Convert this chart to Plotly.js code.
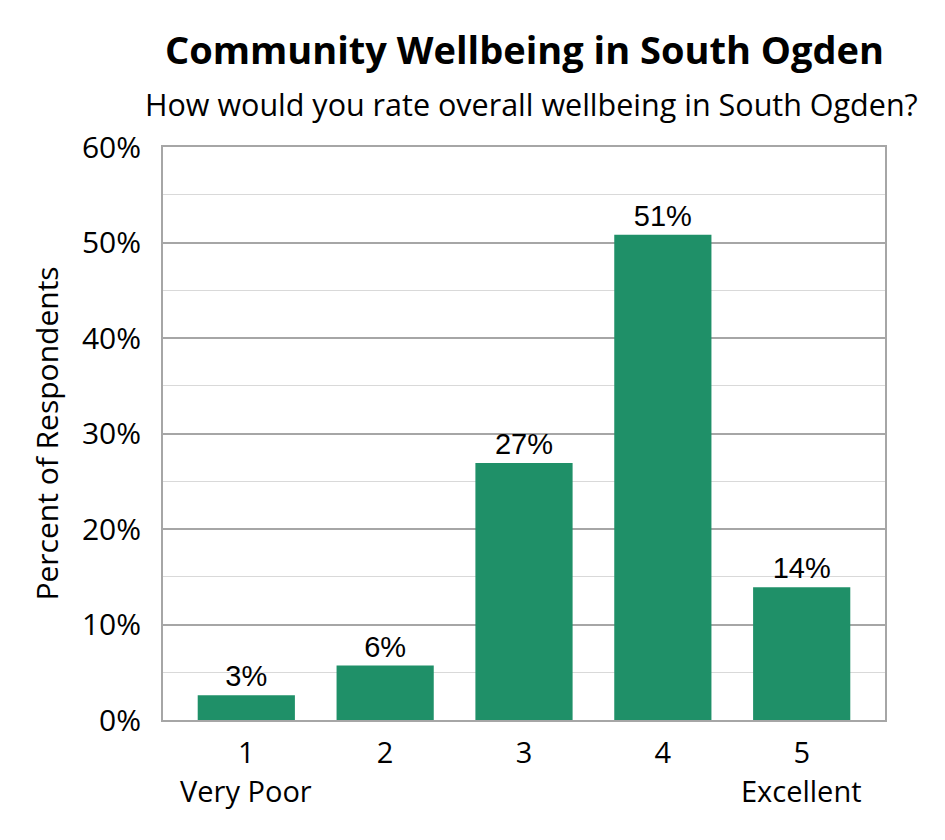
<!DOCTYPE html>
<html>
<head>
<meta charset="utf-8">
<script src="https://cdn.plot.ly/plotly-3.0.1.min.js"></script>
<style>
  html, body { margin: 0; padding: 0; background: #fff; }
  #chart { width: 945px; height: 840px; }
</style>
</head>
<body>
<div id="chart"></div>
<script>
/* Community Wellbeing in South Ogden - survey bar chart */
var categories = ['1', '2', '3', '4', '5'];
var subLabels  = ['Very Poor', '', '', '', 'Excellent'];
var percents   = [2.6, 5.7, 26.9, 50.8, 13.9];
var barLabels  = ['3%', '6%', '27%', '51%', '14%'];

var GREEN = '#1f9068';
var AXIS  = '#a6a6a6';
var MINOR = '#d9d9d9';
var SANS  = '"Open Sans", Lato, sans-serif';

var annotations = [
  { text: 'How would you rate overall wellbeing in South Ogden?', xref: 'paper', yref: 'paper',
    x: 0.51, y: 1, yshift: 43, xanchor: 'center', yanchor: 'middle', showarrow: false,
    font: { family: SANS, size: 30.5, color: '#000' } }
];
subLabels.forEach(function (s, i) {
  if (!s) return;
  annotations.push({
    text: s, xref: 'x', yref: 'paper', x: i, y: 0, yshift: -70,
    xanchor: 'center', yanchor: 'middle', showarrow: false,
    font: { family: SANS, size: 29, color: '#000' }
  });
});

Plotly.newPlot('chart', [{
  type: 'bar',
  x: categories.map(function (c, i) { return i; }),
  y: percents,
  width: 0.7,
  marker: { color: GREEN },
  text: barLabels,
  textposition: 'outside',
  textfont: { family: '"Liberation Sans", Arial, sans-serif', size: 29, color: '#000' },
  cliponaxis: false,
  hoverinfo: 'skip'
}], {
  width: 945,
  height: 840,
  paper_bgcolor: '#fff',
  plot_bgcolor: '#fff',
  margin: { l: 163, r: 60, t: 147, b: 120 },
  showlegend: false,
  title: {
    text: '<b>Community Wellbeing in South Ogden</b>',
    x: 0.555, xanchor: 'center', y: 0.94, yanchor: 'middle',
    font: { family: SANS, size: 38, color: '#000' }
  },
  xaxis: {
    range: [-0.6, 4.6],
    tickvals: [0, 1, 2, 3, 4],
    ticktext: categories,
    ticks: '',
    showgrid: false,
    zeroline: false,
    showline: true, mirror: true, linecolor: AXIS, linewidth: 2,
    tickfont: { family: SANS, size: 29, color: '#000' },
    ticklabelstandoff: 6,
    fixedrange: true
  },
  yaxis: {
    range: [0, 60],
    dtick: 10,
    ticksuffix: '%',
    ticks: '',
    showgrid: true, gridcolor: AXIS, gridwidth: 2,
    minor: { dtick: 5, showgrid: true, gridcolor: MINOR, gridwidth: 1 },
    zeroline: false,
    showline: true, mirror: true, linecolor: AXIS, linewidth: 2,
    tickfont: { family: SANS, size: 30, color: '#000' },
    ticklabelstandoff: 14,
    title: { text: 'Percent of Respondents', standoff: 14,
             font: { family: SANS, size: 30, color: '#000' } },
    fixedrange: true
  },
  annotations: annotations
}, { displayModeBar: false, staticPlot: true });
</script>
</body>
</html>
